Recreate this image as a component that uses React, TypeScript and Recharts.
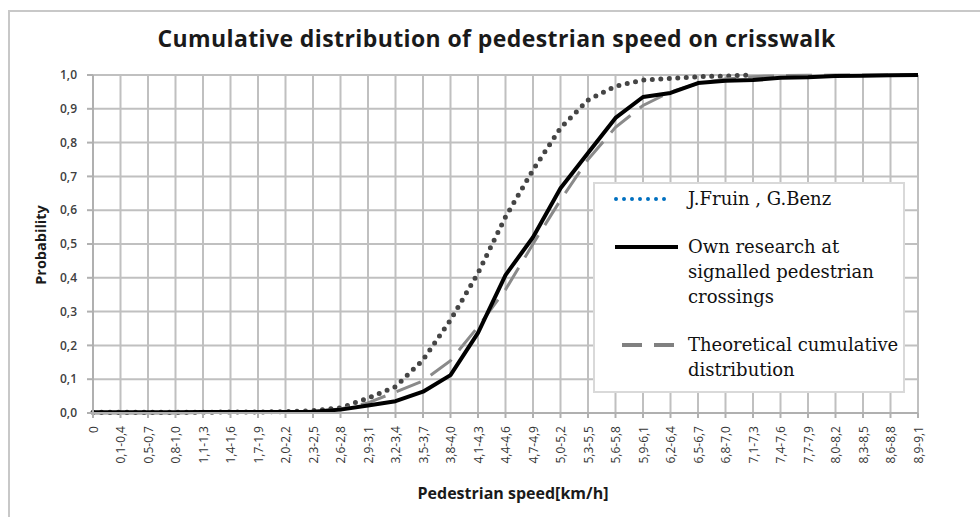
import { LineChart, Line, XAxis, YAxis, CartesianGrid } from 'recharts'

const categories = [
  '0', '0,1-0,4', '0,5-0,7', '0,8-1,0', '1,1-1,3', '1,4-1,6', '1,7-1,9', '2,0-2,2', '2,3-2,5', '2,6-2,8',
  '2,9-3,1', '3,2-3,4', '3,5-3,7', '3,8-4,0', '4,1-4,3', '4,4-4,6', '4,7-4,9', '5,0-5,2', '5,3-5,5', '5,6-5,8',
  '5,9-6,1', '6,2-6,4', '6,5-6,7', '6,8-7,0', '7,1-7,3', '7,4-7,6', '7,7-7,9', '8,0-8,2', '8,3-8,5', '8,6-8,8', '8,9-9,1',
]

const fruin = [
  0.002, 0.002, 0.002, 0.002, 0.002, 0.003, 0.003, 0.004, 0.007, 0.015,
  0.044, 0.078, 0.157, 0.275, 0.414, 0.58, 0.719, 0.843, 0.926, 0.967,
  0.985, 0.99, 0.995, 0.997, 1.0, null, null, null, null, null, null,
]

const ownResearch = [
  0.002, 0.002, 0.002, 0.002, 0.003, 0.003, 0.003, 0.003, 0.004, 0.01,
  0.022, 0.035, 0.063, 0.112, 0.237, 0.408, 0.52, 0.665, 0.769, 0.873,
  0.935, 0.947, 0.976, 0.983, 0.985, 0.992, 0.993, 0.997, 0.998, 0.999, 1.0,
]

const theoretical = [
  null, null, null, null, null, null, null, 0.003, 0.005, 0.012,
  0.03, 0.062, 0.095, 0.155, 0.255, 0.365, 0.5, 0.63, 0.75, 0.845,
  0.91, 0.95, 0.975, 0.988, 0.995, 0.998, 0.999, 1, 1, 1, 1,
]

const yTicks = [0, 0.1, 0.2, 0.3, 0.4, 0.5, 0.6, 0.7, 0.8, 0.9, 1.0]

const data = categories.map((cat, i) => ({
  cat,
  fruin: fruin[i],
  own: ownResearch[i],
  theory: theoretical[i],
}))

const tickFont = '"Open Sans", sans-serif'

const XTick = ({ x, y, payload }: any) => (
  <text
    x={x}
    y={y + 6}
    transform={`rotate(-90, ${x}, ${y + 6})`}
    textAnchor="end"
    dominantBaseline="central"
    fontSize={12}
    fontFamily={tickFont}
    fill="#333"
  >
    {payload.value}
  </text>
)

const legendRows = [
  { lines: ['J.Fruin , G.Benz'], stroke: '#0070c0', dash: '0 8', cap: 'round', x1: 21, x2: 77 },
  { lines: ['Own research at', 'signalled pedestrian', 'crossings'], stroke: '#000', dash: undefined, cap: 'butt', x1: 20, x2: 83 },
  { lines: ['Theoretical cumulative', 'distribution'], stroke: '#808080', dash: '20 12', cap: 'butt', x1: 27, x2: 79 },
]

const LegendBox = () => (
  <div
    style={{
      position: 'absolute',
      left: 593,
      top: 182,
      width: 308,
      height: 207,
      border: '2px solid #d9d9d9',
      background: '#fff',
      fontFamily: '"DejaVu Serif", serif',
      fontSize: 18,
      color: '#111',
    }}
  >
    {legendRows.map((r, i) => {
      const top = [2, 50, 148][i]
      return (
        <div key={i} style={{ position: 'absolute', left: 0, top, width: 308 }}>
          <svg width={90} height={26} style={{ position: 'absolute', left: 0, top: 0 }}>
            <line
              x1={r.x1}
              x2={r.x2}
              y1={13}
              y2={13}
              stroke={r.stroke}
              strokeWidth={4}
              strokeDasharray={r.dash}
              strokeLinecap={r.cap as any}
            />
          </svg>
          <div style={{ position: 'absolute', left: 93, top: 0, lineHeight: '25px', whiteSpace: 'nowrap' }}>
            {r.lines.map((l, j) => (
              <div key={j}>{l}</div>
            ))}
          </div>
        </div>
      )
    })}
  </div>
)

export default function App() {
  return (
    <div style={{ position: 'absolute', left: 0, top: 0, width: 980, height: 517, overflow: 'hidden', background: '#fff' }}>
      <div
        style={{
          position: 'absolute',
          left: 8,
          top: 10,
          width: 1000,
          height: 600,
          borderTop: '2px solid #c8c8c8',
          borderLeft: '2px solid #c8c8c8',
        }}
      />
      <div
        style={{
          position: 'absolute',
          left: 0,
          top: 22,
          width: 993,
          textAlign: 'center',
          fontFamily: tickFont,
          fontWeight: 700,
          fontSize: 23,
          letterSpacing: 0.4,
          color: '#1a1a1a',
        }}
      >
        Cumulative distribution of pedestrian speed on crisswalk
      </div>
      <div style={{ position: 'absolute', left: 0, top: 0 }}>
        <LineChart width={980} height={517} data={data} margin={{ top: 75, right: 62, bottom: 24, left: 43 }}>
          <CartesianGrid stroke="#c0c0c0" strokeWidth={2} />
          <XAxis
            dataKey="cat"
            scale="point"
            interval={0}
            height={80}
            tick={<XTick />}
            tickSize={5}
            stroke="#b0b0b0"
            strokeWidth={2}
            padding={{ left: 0, right: 0 }}
          />
          <YAxis
            width={50}
            domain={[0, 1]}
            ticks={yTicks}
            tickSize={6}
            tickMargin={10}
            stroke="#b0b0b0"
            strokeWidth={2}
            tickFormatter={(v: number) => v.toFixed(1).replace('.', ',')}
            tick={{ fontSize: 12, fontFamily: tickFont, fill: '#404040', fontWeight: 600 }}
          />
          <Line
            dataKey="fruin"
            type="linear"
            stroke="#454545"
            strokeWidth={5}
            strokeDasharray="0 8.5"
            strokeLinecap="round"
            dot={false}
            isAnimationActive={false}
          />
          <Line
            dataKey="theory"
            type="linear"
            stroke="#8a8a8a"
            strokeWidth={3}
            strokeDasharray="26 12"
            dot={false}
            isAnimationActive={false}
          />
          <Line
            dataKey="own"
            type="linear"
            stroke="#000"
            strokeWidth={4}
            strokeLinejoin="round"
            dot={false}
            isAnimationActive={false}
          />
        </LineChart>
      </div>
      <LegendBox />
      <div
        style={{
          position: 'absolute',
          left: 40,
          top: 245,
          transform: 'translate(-50%, -50%) rotate(-90deg)',
          fontFamily: tickFont,
          fontWeight: 700,
          fontSize: 14.5,
          color: '#1a1a1a',
          whiteSpace: 'nowrap',
        }}
      >
        Probability
      </div>
      <div
        style={{
          position: 'absolute',
          left: 513,
          top: 493,
          transform: 'translate(-50%, -50%)',
          fontFamily: tickFont,
          fontWeight: 700,
          fontSize: 16,
          color: '#1a1a1a',
          whiteSpace: 'nowrap',
        }}
      >
        Pedestrian speed[km/h]
      </div>
    </div>
  )
}
